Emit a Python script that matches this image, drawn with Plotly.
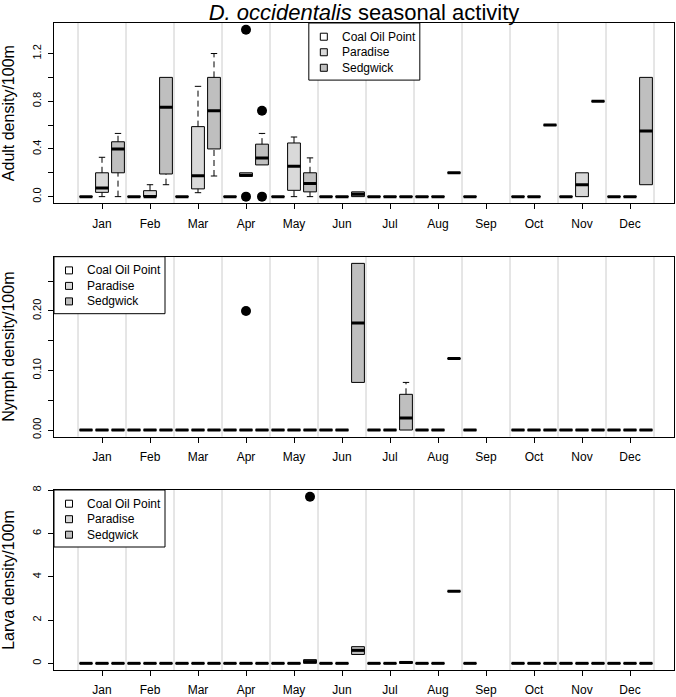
import plotly.graph_objects as go

MONTHS = ["Jan", "Feb", "Mar", "Apr", "May", "Jun", "Jul", "Aug", "Sep", "Oct", "Nov", "Dec"]
SITES = ["Coal Oil Point", "Paradise", "Sedgwick"]

# Each box: [lower whisker, Q1, median, Q3, upper whisker]; None = not sampled
Z = [0, 0, 0, 0, 0]

adult_cop = [Z, Z, Z, Z, Z, Z, Z, Z, Z, Z, Z, Z]
adult_par = [[0, 0.036, 0.073, 0.2, 0.33], [0, 0, 0, 0.05, 0.1], [0.033, 0.065, 0.176, 0.587, 0.925],
             [0.17, 0.17, 0.18, 0.2, 0.2], [0, 0.053, 0.254, 0.45, 0.5], Z, Z, Z, None, Z,
             [0, 0, 0.1, 0.2, 0.2], Z]
adult_sed = [[0, 0.2, 0.4, 0.46, 0.53], [0.1, 0.19, 0.75, 1.0, 1.0], [0.173, 0.4, 0.72, 1.0, 1.2],
             [0.266, 0.266, 0.325, 0.44, 0.53], [0, 0.04, 0.11, 0.2, 0.325], [0, 0, 0.02, 0.04, 0.04],
             Z, [0.2, 0.2, 0.2, 0.2, 0.2], None, [0.6, 0.6, 0.6, 0.6, 0.6], [0.8, 0.8, 0.8, 0.8, 0.8],
             [0.1, 0.1, 0.55, 1.0, 1.0]]
adult_outliers = [(1, 3, 1.4), (1, 3, 0.0), (2, 3, 0.72), (2, 3, 0.0)]  # (site, month, value)

nymph_cop = [Z, Z, Z, Z, Z, Z, Z, Z, Z, Z, Z, Z]
nymph_par = [Z, Z, Z, Z, Z, Z, Z, Z, None, Z, Z, Z]
nymph_sed = [Z, Z, Z, Z, Z, [0.08, 0.08, 0.18, 0.28, 0.28], [0, 0, 0.02, 0.06, 0.08],
             [0.12, 0.12, 0.12, 0.12, 0.12], None, Z, Z, Z]
nymph_outliers = [(1, 3, 0.2)]

larva_cop = [Z, Z, Z, Z, Z, Z, Z, Z, Z, Z, Z, Z]
larva_par = [Z, Z, Z, Z, Z, Z, Z, Z, None, Z, Z, Z]
larva_sed = [Z, Z, Z, Z, [0, 0, 0.08, 0.17, 0.17], [0.41, 0.41, 0.6, 0.77, 0.77], [0, 0, 0.04, 0.08, 0.08],
             [3.33, 3.33, 3.33, 3.33, 3.33], None, Z, Z, Z]
larva_outliers = [(2, 4, 7.7)]

Y_TITLES = ["Adult density/100m", "Nymph density/100m", "Larva density/100m"]
Y_RANGES = [[-0.056, 1.456], [-0.0112, 0.2912], [-0.308, 8.008]]
Y_TICKVALS = [[0, 0.2, 0.4, 0.6, 0.8, 1.0, 1.2], [0, 0.05, 0.10, 0.15, 0.20, 0.25], [0, 2, 4, 6, 8]]
Y_TICKTEXT = [["0.0", "", "0.4", "", "0.8", "", "1.2"], ["0.00", "", "0.10", "", "0.20", ""],
              ["0", "2", "4", "6", "8"]]

# ---- styling ----
FILLS = ["white", "#d9d9d9", "#bfbfbf"]
FONT = "Liberation Sans, Arial, Helvetica, sans-serif"
DOMAINS = [[0.7213, 1.0], [0.3606, 0.6388], [0.0, 0.2782]]
LEGEND_LEFT = [0.411, 0.0, 0.0]  # x-domain fraction
PLOT_W, PLOT_H = 620.0, 180.0

panels = [
    ([adult_cop, adult_par, adult_sed], adult_outliers),
    ([nymph_cop, nymph_par, nymph_sed], nymph_outliers),
    ([larva_cop, larva_par, larva_sed], larva_outliers),
]

fig = go.Figure()
shapes = []
annotations = []


def pos(m, k):
    return 3 * m + k + 1


for r, (sites, outliers) in enumerate(panels):
    xa = "x" if r == 0 else f"x{r + 1}"
    ya = "y" if r == 0 else f"y{r + 1}"
    for k, stats in enumerate(sites):
        xs, q1, med, q3 = [], [], [], []
        mx, my, wx, wy, cx, cy = [], [], [], [], [], []
        for m, s in enumerate(stats):
            if s is None:
                continue
            p = pos(m, k)
            xs.append(p); q1.append(s[1]); med.append(s[2]); q3.append(s[3])
            mx += [p - 0.4, p + 0.4, None]; my += [s[2], s[2], None]
            if s[0] < s[1]:
                wx += [p, p, None]; wy += [s[0], s[1], None]
                cx += [p - 0.2, p + 0.2, None]; cy += [s[0], s[0], None]
            if s[4] > s[3]:
                wx += [p, p, None]; wy += [s[3], s[4], None]
                cx += [p - 0.2, p + 0.2, None]; cy += [s[4], s[4], None]
        fig.add_trace(go.Scatter(x=wx, y=wy, mode="lines", xaxis=xa, yaxis=ya,
                                 line=dict(color="black", width=1, dash="6px,4px"),
                                 hoverinfo="skip", showlegend=False))
        fig.add_trace(go.Scatter(x=cx, y=cy, mode="lines", xaxis=xa, yaxis=ya,
                                 line=dict(color="black", width=1),
                                 hoverinfo="skip", showlegend=False))
        fig.add_trace(go.Box(x=xs, q1=q1, median=med, q3=q3, lowerfence=q1, upperfence=q3,
                             width=0.8, whiskerwidth=0, boxpoints=False, name=SITES[k],
                             fillcolor=FILLS[k], line=dict(color="black", width=1),
                             xaxis=xa, yaxis=ya, showlegend=False))
        fig.add_trace(go.Scatter(x=mx, y=my, mode="lines", xaxis=xa, yaxis=ya,
                                 line=dict(color="black", width=3),
                                 hoverinfo="skip", showlegend=False))
    ox = [pos(m, k) for (k, m, v) in outliers]
    oy = [v for (k, m, v) in outliers]
    fig.add_trace(go.Scatter(x=ox, y=oy, mode="markers", xaxis=xa, yaxis=ya,
                             marker=dict(color="black", size=10), showlegend=False))

    # month separators
    for m in range(13):
        shapes.append(dict(type="line", xref=xa, yref=f"{ya} domain", x0=3 * m + 0.5, x1=3 * m + 0.5,
                           y0=0, y1=1, layer="below", line=dict(color="#cccccc", width=1)))

    # legend box
    lx = LEGEND_LEFT[r]
    lw, lh = 111 / PLOT_W, 57 / PLOT_H
    shapes.append(dict(type="rect", xref=f"{xa} domain", yref=f"{ya} domain",
                       x0=lx, x1=lx + lw, y0=1 - lh, y1=1, fillcolor="white",
                       line=dict(color="black", width=1), layer="above"))
    for k, site in enumerate(SITES):
        cyp = 1 - (13.7 + 15.5 * k) / PLOT_H
        sx = lx + 15 / PLOT_W
        shapes.append(dict(type="rect", xref=f"{xa} domain", yref=f"{ya} domain",
                           x0=sx - 3.5 / PLOT_W, x1=sx + 3.5 / PLOT_W,
                           y0=cyp - 3.5 / PLOT_H, y1=cyp + 3.5 / PLOT_H,
                           fillcolor=FILLS[k], line=dict(color="black", width=1), layer="above"))
        annotations.append(dict(xref=f"{xa} domain", yref=f"{ya} domain", x=lx + 31 / PLOT_W, y=cyp,
                                text=site, showarrow=False, xanchor="left", yanchor="middle",
                                font=dict(size=12, color="black", family=FONT)))

axis_common = dict(showgrid=False, zeroline=False, showline=True, mirror=True,
                   linecolor="black", linewidth=1, ticks="outside", ticklen=5,
                   tickcolor="black", automargin=False)

for r in range(3):
    xkey = "xaxis" if r == 0 else f"xaxis{r + 1}"
    ykey = "yaxis" if r == 0 else f"yaxis{r + 1}"
    ya = "y" if r == 0 else f"y{r + 1}"
    xa = "x" if r == 0 else f"x{r + 1}"
    fig.update_layout({
        xkey: dict(axis_common, anchor=ya, domain=[0, 1], range=[-1, 37.75],
                   tickvals=[3 * m + 2 for m in range(12)], ticktext=MONTHS,
                   ticklabelstandoff=4,
                   tickfont=dict(size=12, color="black", family=FONT)),
        ykey: dict(axis_common, anchor=xa, domain=DOMAINS[r], range=Y_RANGES[r],
                   tickvals=Y_TICKVALS[r], ticktext=Y_TICKTEXT[r], tickangle=-90,
                   ticklabelstandoff=3,
                   tickfont=dict(size=11, color="black", family=FONT),
                   title=dict(text=Y_TITLES[r], standoff=11,
                              font=dict(size=16, color="black", family=FONT))),
    })

fig.update_layout(
    width=676, height=697,
    margin=dict(l=54, r=2, t=23, b=27, autoexpand=False),
    plot_bgcolor="white", paper_bgcolor="white",
    showlegend=False, boxmode="overlay",
    font=dict(family=FONT, color="black"),
    title=dict(text="<i>D. occidentalis</i> seasonal activity", xref="paper", x=0.5, xanchor="center",
               yref="container", y=1 - 12 / 697, yanchor="middle",
               font=dict(size=22, color="black", family=FONT)),
    shapes=shapes, annotations=annotations,
)

fig.write_html("out.html", config={"displayModeBar": False},
               post_script="document.body.style.margin='0px';")
